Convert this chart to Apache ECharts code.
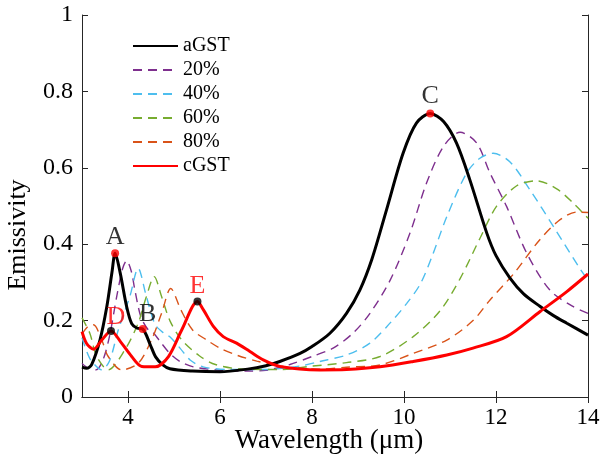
<!DOCTYPE html>
<html>
<head>
<meta charset="utf-8">
<script src="https://cdn.jsdelivr.net/npm/echarts@6/dist/echarts.min.js"></script>
<style>
  html, body { margin: 0; padding: 0; background: #fff; }
  #chart { width: 601px; height: 469px; }
</style>
</head>
<body>
<div id="chart"></div>
<script>
// Emissivity spectra of GST at different crystallisation fractions
const seriesNames = ['aGST', '20%', '40%', '60%', '80%', 'cGST'];

const wlAGST = [3.0, 3.1, 3.21, 3.39, 3.54, 3.65, 3.72, 3.83, 3.97, 4.08, 4.2, 4.32, 4.48, 4.6, 4.75, 4.91, 5.4, 6.0, 6.6, 7.0, 7.3, 7.74, 8.0, 8.39, 8.75, 9.04, 9.3, 9.62, 9.98, 10.27, 10.57, 10.86, 11.14, 11.43, 11.8, 12.0, 12.3, 12.6, 12.96, 13.25, 13.54, 14.0];
const emAGST = [0.078, 0.075, 0.085, 0.149, 0.237, 0.325, 0.376, 0.325, 0.237, 0.192, 0.180, 0.178, 0.138, 0.105, 0.085, 0.074, 0.068, 0.066, 0.073, 0.082, 0.093, 0.114, 0.132, 0.167, 0.219, 0.280, 0.360, 0.490, 0.638, 0.717, 0.742, 0.721, 0.665, 0.569, 0.429, 0.370, 0.312, 0.270, 0.237, 0.213, 0.193, 0.162];

const wl20 = [3.0, 3.1, 3.3, 3.45, 3.6, 3.75, 3.88, 3.97, 4.07, 4.15, 4.28, 4.44, 4.55, 4.7, 4.91, 5.13, 5.42, 6.0, 6.6, 7.0, 7.52, 8.02, 8.46, 8.89, 9.26, 9.7, 10.13, 10.49, 10.86, 11.22, 11.58, 11.87, 12.23, 12.67, 13.17, 13.67, 14.0];
const em20 = [0.088, 0.078, 0.071, 0.095, 0.160, 0.260, 0.335, 0.357, 0.330, 0.280, 0.210, 0.176, 0.168, 0.145, 0.114, 0.093, 0.079, 0.070, 0.068, 0.070, 0.085, 0.107, 0.128, 0.167, 0.219, 0.306, 0.429, 0.560, 0.656, 0.693, 0.665, 0.586, 0.499, 0.376, 0.280, 0.237, 0.219];

const wl40 = [3.0, 3.1, 3.2, 3.43, 3.6, 3.79, 4.04, 4.22, 4.4, 4.59, 4.8, 4.91, 5.13, 5.35, 5.63, 6.2, 7.0, 7.74, 8.17, 8.75, 9.26, 9.7, 10.06, 10.35, 10.6, 10.93, 11.36, 11.65, 11.94, 12.3, 12.74, 13.25, 13.83, 14.0];
const em40 = [0.155, 0.120, 0.095, 0.071, 0.095, 0.176, 0.263, 0.337, 0.263, 0.190, 0.165, 0.158, 0.128, 0.097, 0.079, 0.072, 0.072, 0.081, 0.093, 0.110, 0.141, 0.194, 0.245, 0.295, 0.365, 0.472, 0.586, 0.625, 0.638, 0.616, 0.542, 0.446, 0.335, 0.306];

const wl60 = [3.0, 3.17, 3.32, 3.57, 3.93, 4.22, 4.4, 4.57, 4.73, 4.91, 5.17, 5.55, 5.9, 6.5, 7.3, 8.02, 8.75, 9.48, 10.2, 10.78, 11.22, 11.65, 12.01, 12.45, 12.88, 13.32, 13.7, 14.0];
const em60 = [0.207, 0.167, 0.106, 0.071, 0.123, 0.193, 0.263, 0.315, 0.263, 0.200, 0.149, 0.108, 0.085, 0.073, 0.072, 0.081, 0.090, 0.106, 0.158, 0.225, 0.310, 0.415, 0.499, 0.553, 0.566, 0.545, 0.505, 0.468];

const wl80 = [3.0, 3.14, 3.25, 3.43, 3.57, 3.86, 4.22, 4.51, 4.73, 4.93, 5.15, 5.4, 5.7, 6.0, 6.4, 6.8, 7.16, 7.6, 8.2, 8.75, 9.48, 10.2, 10.93, 11.5, 11.87, 12.4, 12.92, 13.35, 13.75, 14.0];
const em80 = [0.165, 0.186, 0.189, 0.149, 0.106, 0.071, 0.088, 0.149, 0.219, 0.284, 0.228, 0.176, 0.150, 0.128, 0.108, 0.094, 0.084, 0.076, 0.073, 0.078, 0.084, 0.114, 0.149, 0.200, 0.254, 0.325, 0.407, 0.460, 0.484, 0.483];

const wlCGST = [3.0, 3.1, 3.25, 3.43, 3.63, 3.86, 4.08, 4.3, 4.59, 4.88, 5.17, 5.51, 5.64, 5.86, 6.07, 6.36, 6.65, 6.94, 7.3, 8.17, 8.75, 9.48, 10.2, 10.93, 11.5, 12.23, 12.96, 13.54, 14.0];
const emCGST = [0.171, 0.140, 0.125, 0.149, 0.173, 0.141, 0.106, 0.080, 0.079, 0.106, 0.176, 0.250, 0.228, 0.184, 0.158, 0.141, 0.119, 0.097, 0.080, 0.071, 0.072, 0.079, 0.093, 0.110, 0.128, 0.158, 0.224, 0.276, 0.322];

// Marked resonance points
const markNames = ['A', 'B', 'C', 'D', 'E'];
const markWl = [3.72, 4.32, 10.57, 3.63, 5.51];
const markEm = [0.376, 0.178, 0.742, 0.173, 0.250];

const xTicks = [4, 6, 8, 10, 12, 14];
const yTicks = [0, 0.2, 0.4, 0.6, 0.8, 1];

const serif = '"Liberation Serif", "Times New Roman", "DejaVu Serif", serif';
const colors = ['#000000', '#7E2F8E', '#4DBEEE', '#77AC30', '#D95319', '#FF0000'];
const wls = [wlAGST, wl20, wl40, wl60, wl80, wlCGST];
const ems = [emAGST, em20, em40, em60, em80, emCGST];

const lineSeries = seriesNames.map((name, i) => {
  const solid = (i === 0 || i === 5);
  return {
    name: name,
    type: 'line',
    data: wls[i].map((w, k) => [w, ems[i][k]]),
    smooth: 0.3,
    symbol: 'none',
    lineStyle: {
      color: colors[i],
      width: solid ? 3 : 1.4,
      type: solid ? 'solid' : [9, 6]
    },
    itemStyle: { color: colors[i] },
    z: solid ? 3 : 2
  };
});

// dot colour / label colour / label offset for each marked point
const markStyle = {
  A: { dot: '#FF0000', text: '#000000', offset: [0, -16] },
  B: { dot: '#FF0000', text: '#000000', offset: [5, -15] },
  C: { dot: '#FF0000', text: '#000000', offset: [0, -17] },
  D: { dot: '#000000', text: '#FF0000', offset: [5, -14] },
  E: { dot: '#000000', text: '#FF0000', offset: [0, -15] }
};

const markSeries = {
  type: 'scatter',
  data: markNames.map((n, i) => ({
    name: n,
    value: [markWl[i], markEm[i]],
    itemStyle: { color: markStyle[n].dot },
    label: {
      show: true,
      formatter: n,
      position: 'inside',
      offset: markStyle[n].offset,
      color: markStyle[n].text,
      fontFamily: serif,
      fontSize: 26
    }
  })),
  symbolSize: 8,
  z: 5,
  silent: true
};

const axisLine = { show: true, lineStyle: { color: '#262626', width: 1 } };
const tickStyle = { color: '#262626' };

const chart = echarts.init(document.getElementById('chart'), null, { renderer: 'canvas' });
chart.setOption({
  animation: false,
  backgroundColor: '#ffffff',
  grid: { left: 82, right: 13, top: 15, bottom: 72, containLabel: false, outerBoundsMode: 'none' },
  legend: {
    data: seriesNames,
    orient: 'vertical',
    left: 132,
    top: 36,
    padding: 0,
    itemWidth: 45,
    itemHeight: 14,
    itemGap: 4,
    itemStyle: { opacity: 0 },
    textStyle: { fontFamily: serif, fontSize: 20, color: '#000' },
    selectedMode: false
  },
  xAxis: [
    {
      type: 'value', min: 3, max: 14, position: 'bottom',
      axisLine: axisLine,
      axisTick: { show: true, inside: true, length: 6, customValues: xTicks, lineStyle: tickStyle },
      axisLabel: { customValues: xTicks, fontFamily: serif, fontSize: 23, color: '#000', margin: 9 },
      splitLine: { show: false }
    },
    {
      type: 'value', min: 3, max: 14, position: 'top',
      axisLine: axisLine,
      axisTick: { show: true, inside: true, length: 6, customValues: xTicks, lineStyle: tickStyle },
      axisLabel: { show: false },
      splitLine: { show: false }
    }
  ],
  yAxis: [
    {
      type: 'value', min: 0, max: 1, position: 'left',
      axisLine: axisLine,
      axisTick: { show: true, inside: true, length: 6, customValues: yTicks, lineStyle: tickStyle },
      axisLabel: { customValues: yTicks, fontFamily: serif, fontSize: 24, color: '#000', margin: 9,
        formatter: v => String(Math.round(v * 10) / 10) },
      splitLine: { show: false }
    },
    {
      type: 'value', min: 0, max: 1, position: 'right',
      axisLine: axisLine,
      axisTick: { show: true, inside: true, length: 6, customValues: yTicks, lineStyle: tickStyle },
      axisLabel: { show: false },
      splitLine: { show: false }
    }
  ],
  graphic: [
    {
      type: 'text', x: 329, y: 441,
      style: { text: 'Wavelength (μm)', font: '27px ' + serif, fill: '#000', align: 'center', verticalAlign: 'middle' }
    },
    {
      type: 'text', x: 18, y: 235, rotation: Math.PI / 2,
      style: { text: 'Emissivity', font: '26px ' + serif, fill: '#000', align: 'center', verticalAlign: 'middle' }
    }
  ],
  series: lineSeries.concat([markSeries])
});
</script>
</body>
</html>
